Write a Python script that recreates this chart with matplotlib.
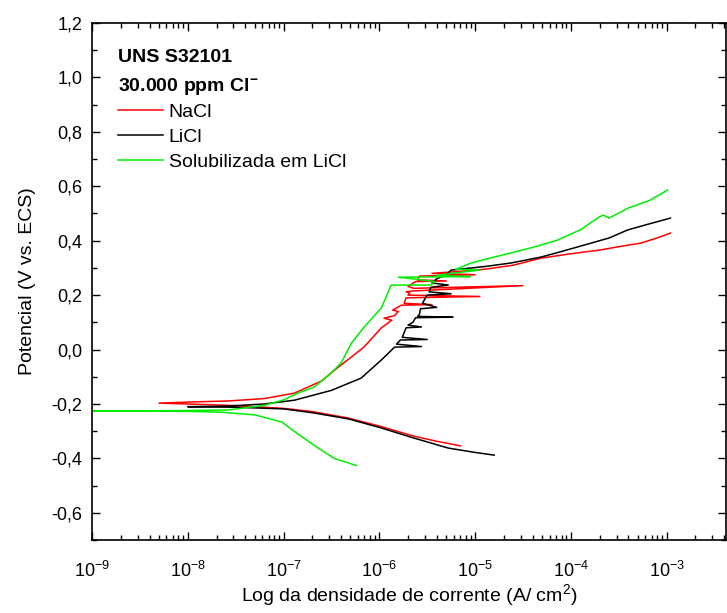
import numpy as np
import matplotlib
matplotlib.use('Agg')
import matplotlib.pyplot as plt
from matplotlib.ticker import MultipleLocator, FuncFormatter, FixedLocator

plt.rcParams['font.family'] = ['Liberation Sans', 'DejaVu Sans']
plt.rcParams['mathtext.default'] = 'regular'

# ----------------------------------------------------------------------------
# Data: log10 of current density (A/cm2) and potential (V)
# Each curve runs from the cathodic end, through Ecorr, to the anodic end.
# ----------------------------------------------------------------------------
nacl_logi = [-5.15, -5.40, -5.64, -5.98, -6.32, -6.70, -7.00, -7.50, -8.00, -8.30,
             -8.00, -7.58, -7.20, -6.885, -6.60, -6.44, -6.29, -6.16, -5.98, -5.90,
             -5.87, -5.95, -5.84, -5.80, -5.86, -5.77, -5.45, -5.74, -5.72,
             -4.95, -5.70, -5.68, -5.72, -5.66, -4.50, -5.64, -5.70, -5.62,
             -5.30, -5.60, -5.58, -5.00, -5.45, -5.25, -4.90, -4.60, -4.31,
             -4.00, -3.69, -3.50, -3.27, -3.10, -2.96]
nacl_E = [-0.354, -0.337, -0.318, -0.283, -0.252, -0.228, -0.216, -0.206, -0.200, -0.197,
          -0.193, -0.189, -0.180, -0.160, -0.115, -0.068, -0.027, 0.009, 0.079, 0.100,
          0.108, 0.115, 0.125, 0.140, 0.145, 0.163, 0.165, 0.170, 0.190,
          0.195, 0.200, 0.207, 0.212, 0.215, 0.235, 0.225, 0.232, 0.250,
          0.252, 0.256, 0.270, 0.275, 0.280, 0.285, 0.295, 0.310, 0.336,
          0.352, 0.366, 0.378, 0.391, 0.410, 0.428]

licl_logi = [-4.80, -5.00, -5.28, -5.64, -5.98, -6.32, -6.70, -7.00, -7.50, -8.00,
             -7.60, -7.20, -6.885, -6.50, -6.19, -5.98, -5.84, -5.56, -5.82, -5.78,
             -5.50, -5.76, -5.72, -5.56, -5.70, -5.65, -5.62, -5.23, -5.60, -5.58,
             -5.57, -5.40, -5.55, -5.50, -5.25, -5.48, -5.46, -5.28, -5.45, -5.40,
             -5.30, -5.25, -4.90, -4.625, -4.31, -4.10, -3.86, -3.60, -3.41, -3.20, -2.96]
licl_E = [-0.388, -0.378, -0.362, -0.325, -0.288, -0.255, -0.232, -0.218, -0.212, -0.210,
          -0.208, -0.200, -0.186, -0.150, -0.105, -0.039, 0.009, 0.011, 0.020, 0.035,
          0.037, 0.045, 0.080, 0.083, 0.090, 0.100, 0.117, 0.119, 0.122, 0.130,
          0.150, 0.155, 0.170, 0.200, 0.205, 0.212, 0.229, 0.237, 0.245, 0.260,
          0.275, 0.292, 0.305, 0.318, 0.340, 0.360, 0.384, 0.410, 0.439, 0.460, 0.483]

sol_logi = [-6.24, -6.47, -6.68, -6.85, -7.02, -7.30, -7.66, -8.00, -8.50, -9.20,
            -8.50, -8.00, -7.58, -7.20, -7.00, -6.85, -6.68, -6.50, -6.40, -6.29,
            -6.16, -5.98, -5.875, -5.46, -5.42, -5.80, -5.05, -5.40, -5.25, -4.95,
            -5.20, -5.04, -4.80, -4.59, -4.35, -4.14, -3.90, -3.70, -3.66, -3.60,
            -3.40, -3.17, -2.99]
sol_E = [-0.426, -0.400, -0.352, -0.310, -0.266, -0.240, -0.230, -0.227, -0.226, -0.226,
         -0.225, -0.224, -0.222, -0.205, -0.185, -0.160, -0.138, -0.085, -0.050, 0.024,
         0.082, 0.152, 0.237, 0.237, 0.250, 0.266, 0.268, 0.272, 0.280, 0.292,
         0.295, 0.318, 0.340, 0.358, 0.380, 0.402, 0.440, 0.488, 0.494, 0.483,
         0.520, 0.549, 0.586]

series_labels = ['NaCl', 'LiCl', 'Solubilizada em LiCl']
series_colors = ['#ff0000', '#000000', '#00ee00']
x_decades = [-9, -8, -7, -6, -5, -4, -3]

fig = plt.figure(figsize=(7.27, 6.13), dpi=100)
ax = fig.add_axes([0.1265, 0.119, 0.8725, 0.8435])

for logi, E, lab, col in zip([nacl_logi, licl_logi, sol_logi],
                             [nacl_E, licl_E, sol_E],
                             series_labels, series_colors):
    ax.plot(10 ** np.array(logi), E, color=col, linewidth=1.1, label=lab)

ax.set_xscale('log')
ax.set_xlim(1e-9, 4.2e-3)
ax.set_ylim(-0.7, 1.2)

# fixed decade ticks so nothing lands outside the frame
major_x = [10.0 ** d for d in x_decades]
minor_x = [k * 10.0 ** d for d in x_decades for k in range(2, 10)]
ax.xaxis.set_major_locator(FixedLocator(major_x))
ax.xaxis.set_minor_locator(FixedLocator([v for v in minor_x if v < 4.2e-3]))
ax.xaxis.set_major_formatter(FuncFormatter(lambda v, p: f"$10^{{{int(round(np.log10(v)))}}}$"))
ax.xaxis.set_minor_formatter(FuncFormatter(lambda v, p: ''))
ax.yaxis.set_major_locator(MultipleLocator(0.2))
ax.yaxis.set_minor_locator(MultipleLocator(0.1))
ax.yaxis.set_major_formatter(FuncFormatter(lambda v, p: f"{v:.1f}".replace('.', ',').replace('-0,0', '0,0')))

ax.tick_params(which='both', direction='in', top=True, right=True, width=1.0, labelsize=13)
ax.tick_params(which='major', length=6)
ax.tick_params(which='minor', length=3.5)
ax.tick_params(axis='x', which='major', pad=15)
ax.tick_params(axis='y', which='major', pad=7)
for s in ax.spines.values():
    s.set_linewidth(1.2)

ax.set_xlabel('Log da densidade de corrente (A/ cm$^2$)', fontsize=14, labelpad=1)
ax.set_ylabel('Potencial (V vs. ECS)', fontsize=14, labelpad=11)

ax.text(0.041, 0.9246, 'UNS S32101', transform=ax.transAxes, fontsize=14,
        fontweight='bold', va='baseline')
ax.text(0.041, 0.8685, '30.000 ppm Cl$^{-}$', transform=ax.transAxes, fontsize=14,
        fontweight='bold', va='baseline')
ax.legend(loc='upper left', bbox_to_anchor=(0.041, 0.845), frameon=False,
          fontsize=14, handlelength=2.3, handletextpad=0.3, labelspacing=0.38,
          borderpad=0.0, borderaxespad=0.0)

fig.savefig('out.png', dpi=100)
